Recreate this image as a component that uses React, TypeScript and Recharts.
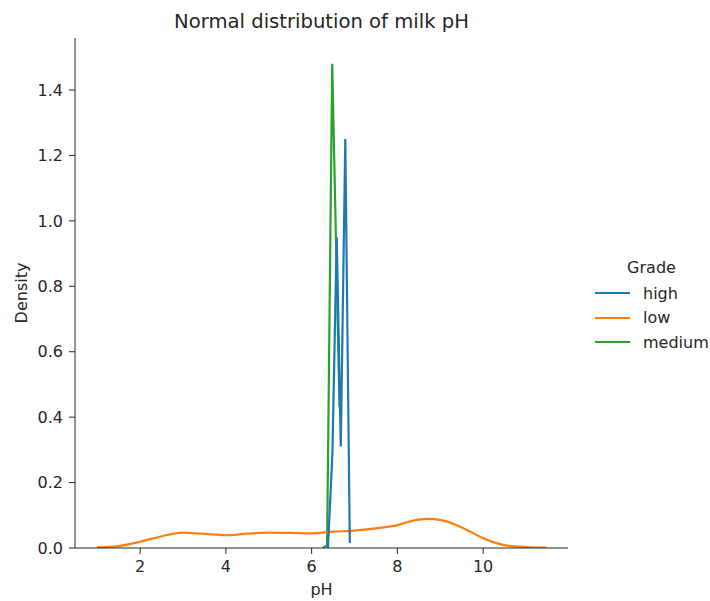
import { LineChart, Line, XAxis, YAxis, Legend } from 'recharts'

const HIGH_PH = [6.38, 6.485, 6.585, 6.68, 6.785, 6.89]
const HIGH_DENSITY = [0.0, 0.29, 0.95, 0.31, 1.25, 0.015]

const LOW_PH = [0.99, 1.5, 2.0, 2.5, 3.0, 3.5, 4.0, 4.5, 5.0, 5.5, 6.0, 6.5, 7.0, 7.5, 8.0, 8.35, 8.7, 9.0, 9.5, 10.0, 10.5, 11.0, 11.48]
const LOW_DENSITY = [0.002, 0.006, 0.019, 0.036, 0.047, 0.043, 0.039, 0.044, 0.047, 0.046, 0.045, 0.05, 0.053, 0.06, 0.07, 0.083, 0.089, 0.086, 0.063, 0.03, 0.009, 0.003, 0.001]

const MEDIUM_PH = [6.26, 6.36, 6.48, 6.65]
const MEDIUM_DENSITY = [0.0, 0.008, 1.48, 0.43]

const X_TICKS = [2, 4, 6, 8, 10]
const Y_TICKS = [0, 0.2, 0.4, 0.6, 0.8, 1.0, 1.2, 1.4]

const GRADES = [
  { key: 'high', label: 'high', color: '#1f77b4' },
  { key: 'low', label: 'low', color: '#ff7f0e' },
  { key: 'medium', label: 'medium', color: '#2ca02c' },
]

const toRows = (xs: number[], ys: number[]) => xs.map((ph, i) => ({ ph, density: ys[i] }))

const FONT = '"DejaVu Sans", sans-serif'
const INK = '#262626'
const FS = 16

function GradeLegend() {
  return (
    <div style={{ fontFamily: FONT, fontSize: FS, color: INK }}>
      <div style={{ textAlign: 'center', width: 123, height: 24, lineHeight: '24px', marginBottom: 1 }}>Grade</div>
      {GRADES.map(g => (
        <div key={g.key} style={{ display: 'flex', alignItems: 'center', height: 24.5 }}>
          <span style={{ display: 'inline-block', width: 35, height: 2.2, background: g.color, marginLeft: 5, marginRight: 13 }} />
          <span>{g.label}</span>
        </div>
      ))}
    </div>
  )
}

export default function App() {
  const high = toRows(HIGH_PH, HIGH_DENSITY)
  const low = toRows(LOW_PH, LOW_DENSITY)
  const medium = toRows(MEDIUM_PH, MEDIUM_DENSITY)
  const tick = { fill: INK, fontSize: FS, fontFamily: FONT }
  return (
    <div style={{ position: 'relative', width: 710, height: 601, background: '#fff' }}>
      <style>{'body{margin:0}'}</style>
      <div style={{ position: 'absolute', top: 10, left: 0, width: 643, textAlign: 'center', fontFamily: FONT, fontSize: 19.6, color: INK }}>
        Normal distribution of milk pH
      </div>
      <LineChart width={710} height={601} margin={{ top: 38, right: 142, left: 25, bottom: 23 }}>
        <XAxis type="number" dataKey="ph" domain={[0.48, 11.98]} ticks={X_TICKS} allowDataOverflow
          tick={tick} tickSize={6} tickMargin={7} height={30} stroke={INK}
          label={{ value: 'pH', position: 'insideBottom', offset: -17, fill: INK, fontSize: FS, fontFamily: FONT }} />
        <YAxis type="number" domain={[0, 1.559]} ticks={Y_TICKS} allowDataOverflow width={50}
          tickFormatter={(v: number) => v.toFixed(1)} tick={tick} tickSize={6} tickMargin={6} stroke={INK}
          label={{ value: 'Density', angle: -90, position: 'insideLeft', offset: -4, fill: INK, fontSize: FS, fontFamily: FONT, style: { textAnchor: 'middle' } }} />
        <Legend layout="vertical" align="center" verticalAlign="middle" content={() => <GradeLegend />}
          wrapperStyle={{ left: 590, top: 256, width: 125 }} />
        <Line data={medium} dataKey="density" name="medium" type="linear" stroke="#2ca02c" strokeWidth={2.2} dot={false} activeDot={false} isAnimationActive={false} />
        <Line data={low} dataKey="density" name="low" type="monotone" stroke="#ff7f0e" strokeWidth={2.2} dot={false} activeDot={false} isAnimationActive={false} />
        <Line data={high} dataKey="density" name="high" type="linear" stroke="#1f77b4" strokeWidth={2.2} dot={false} activeDot={false} isAnimationActive={false} />
      </LineChart>
    </div>
  )
}
